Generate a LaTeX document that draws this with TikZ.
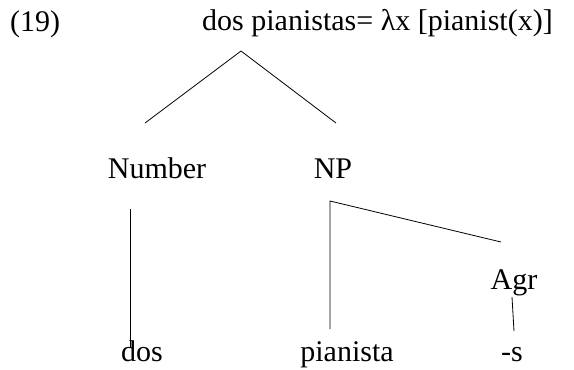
\documentclass[tikz,border=0pt]{standalone}
\usepackage{fontspec}
\setmainfont{Liberation Serif}
\tikzset{lbl/.style={anchor=base, inner sep=0pt, font=\fontsize{30}{36}\selectfont},
  edge/.style={draw=black, line width=0.8pt}}
\begin{document}
\begin{tikzpicture}[x=1pt,y=-1pt]
\useasboundingbox (0,0) rectangle (574,370);
\node[lbl, anchor=base west] (num) at (10,31) {(19)};
\node[lbl, anchor=base west] (root) at (202,30) {dos pianistas= λx [pianist(x)]};
\node[lbl] (number) at (157,178) {Number};
\node[lbl] (np) at (333,178) {NP};
\node[lbl] (agr) at (514,289) {Agr};
\node[lbl] (dos) at (142,361) {dos};
\node[lbl] (pianista) at (347,361) {pianista};
\node[lbl] (s) at (512,361) {-s};
\coordinate (apex) at (241,51);
\coordinate (l) at (145,123);
\coordinate (r) at (336,123);
\coordinate (nt) at (130,209);
\coordinate (nb) at (130,347);
\coordinate (pt) at (330,201);
\coordinate (pb) at (330,329);
\coordinate (at) at (501,242);
\coordinate (st) at (512,297);
\coordinate (sb) at (514,331);
\draw[edge] (l) -- (apex) -- (r);
\draw[edge] (nt) -- (nb);
\draw[edge] (pb) -- (pt) -- (at);
\draw[edge] (st) -- (sb);
\end{tikzpicture}
\end{document}
